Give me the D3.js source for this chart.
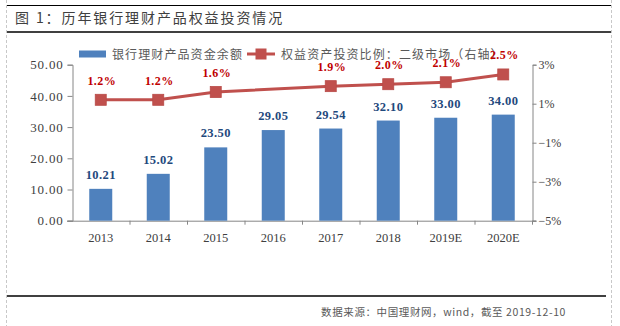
<!DOCTYPE html>
<html>
<head>
<meta charset="utf-8">
<script src="https://cdn.jsdelivr.net/npm/d3@7/dist/d3.min.js"></script>
<style>
  html, body { margin: 0; padding: 0; background: #fff; }
  svg { display: block; }
</style>
</head>
<body>
<svg id="chart" width="620" height="326"></svg>
<script>
// Bank wealth-management funds (trillion yuan) and equity allocation share;
// 2016 has no equity share figure, so the line runs straight from 2015 to 2017
const years = ["2013", "2014", "2015", "2016", "2017", "2018", "2019E", "2020E"];
const fundBalance = [10.21, 15.02, 23.50, 29.05, 29.54, 32.10, 33.00, 34.00];
const equityShare = [1.2, 1.2, 1.6, null, 1.9, 2.0, 2.1, 2.5];
const leftTicks = [0, 10, 20, 30, 40, 50];
const rightTicks = [-5, -3, -1, 1, 3];
const titleText = "图 1：历年银行理财产品权益投资情况";
const barLegend = "银行理财产品资金余额";
const lineLegend = "权益资产投资比例：二级市场（右轴）";
const sourceText = "数据来源：中国理财网，wind，截至 2019-12-10";

const svg = d3.select("#chart");
const serif = "'Liberation Serif', 'DejaVu Serif', serif";
const cjk = "'Noto Sans CJK SC', sans-serif";
const axisColor = "#868686";

// frame: dashed side rules, solid top and bottom rules
svg.append("line").attr("x1", 6.5).attr("x2", 6.5).attr("y1", 0).attr("y2", 326)
  .attr("stroke", "#c8c8c8").attr("stroke-dasharray", "3,2");
svg.append("line").attr("x1", 611.5).attr("x2", 611.5).attr("y1", 0).attr("y2", 326)
  .attr("stroke", "#c8c8c8").attr("stroke-dasharray", "3,2");
svg.append("line").attr("x1", 7).attr("x2", 611).attr("y1", 5.5).attr("y2", 5.5)
  .attr("stroke", "#000").attr("stroke-width", 1);
svg.append("line").attr("x1", 7).attr("x2", 611).attr("y1", 32).attr("y2", 32)
  .attr("stroke", "#000").attr("stroke-width", 1.5);
svg.append("line").attr("x1", 7).attr("x2", 606).attr("y1", 296).attr("y2", 296)
  .attr("stroke", "#000").attr("stroke-width", 1.5);

svg.append("text").attr("x", 15).attr("y", 23)
  .attr("font-family", cjk).attr("font-size", 14).attr("letter-spacing", 1.9)
  .attr("fill", "#404040").text(titleText);

svg.append("text").attr("x", 566).attr("y", 316).attr("text-anchor", "end")
  .attr("font-family", cjk).attr("font-size", 10.5).attr("letter-spacing", 0.6)
  .attr("fill", "#595959").text(sourceText);

// scales
const x = d3.scaleBand().domain(years).range([72, 532]).paddingInner(0.6).paddingOuter(0.3);
const xb = d3.scaleBand().domain(years).range([72, 532]);
const yL = d3.scaleLinear().domain([0, 50]).range([220.7, 64.7]);
const yR = d3.scaleLinear().domain([-5, 3]).range([220.7, 64.7]);

// left axis
const gL = svg.append("g").attr("transform", "translate(72.5,0)")
  .call(d3.axisLeft(yL).tickValues(leftTicks).tickFormat(d3.format(".2f")).tickSize(5).tickPadding(4));
// right axis
const gR = svg.append("g").attr("transform", "translate(532.5,0)")
  .call(d3.axisRight(yR).tickValues(rightTicks).tickFormat(d => (d < 0 ? "−" + Math.abs(d) : d) + "%").tickSize(4).tickPadding(2));
// bottom axis with ticks at category boundaries
const gB = svg.append("g").attr("transform", "translate(0,220.7)")
  .call(d3.axisBottom(xb).tickSize(0).tickPadding(12));
gB.selectAll(".tick").append("line")
  .attr("x1", xb.bandwidth() / 2 + 0.5).attr("x2", xb.bandwidth() / 2 + 0.5)
  .attr("y1", 0).attr("y2", 4).attr("stroke", axisColor);

[gL, gR, gB].forEach(g => {
  g.select(".domain").attr("stroke", axisColor);
  g.selectAll(".tick line").attr("stroke", axisColor);
  g.selectAll(".tick text").attr("font-family", serif).attr("font-size", 13).attr("fill", "#404040");
});
gB.select(".domain").attr("d", "M67,0.5H536");
gL.selectAll(".tick text").attr("letter-spacing", 0.8);
gR.selectAll(".tick text").attr("font-size", 12);
gB.selectAll(".tick text").attr("font-size", 12.5);

// bars
svg.append("g").selectAll("rect").data(years).join("rect")
  .attr("x", d => x(d)).attr("width", x.bandwidth())
  .attr("y", (d, i) => yL(fundBalance[i]))
  .attr("height", (d, i) => yL(0) - yL(fundBalance[i]))
  .attr("fill", "#4F81BD");

svg.append("g").selectAll("text").data(years).join("text")
  .attr("x", d => x(d) + x.bandwidth() / 2)
  .attr("y", (d, i) => yL(fundBalance[i]) - 10)
  .attr("text-anchor", "middle")
  .attr("font-family", serif).attr("font-weight", "bold").attr("font-size", 12.5)
  .attr("letter-spacing", 0.4)
  .attr("fill", "#1F497D")
  .text((d, i) => fundBalance[i].toFixed(2));

// line series on right axis (points with a value only)
const cx = d => x(d) + x.bandwidth() / 2;
const pts = years.map((yr, i) => ({ yr, v: equityShare[i] })).filter(p => p.v != null);
const line = d3.line().x(p => cx(p.yr)).y(p => yR(p.v));
svg.append("path").datum(pts).attr("d", line)
  .attr("fill", "none").attr("stroke", "#C0504D").attr("stroke-width", 3);
svg.append("g").selectAll("rect").data(pts).join("rect")
  .attr("x", p => cx(p.yr) - 5.5).attr("y", p => yR(p.v) - 5.5)
  .attr("width", 11).attr("height", 11)
  .attr("fill", "#C0504D").attr("stroke", "#B84A47").attr("stroke-width", 0.8);

// legend
const lg = svg.append("g");
lg.append("rect").attr("x", 79).attr("y", 50.5).attr("width", 27).attr("height", 7).attr("fill", "#4F81BD");
lg.append("text").attr("x", 112).attr("y", 58.5)
  .attr("font-family", cjk).attr("font-size", 12).attr("letter-spacing", 1.1)
  .attr("fill", "#595959").text(barLegend);
lg.append("line").attr("x1", 247).attr("x2", 275).attr("y1", 54).attr("y2", 54)
  .attr("stroke", "#C0504D").attr("stroke-width", 3);
lg.append("rect").attr("x", 255.5).attr("y", 48.5).attr("width", 11).attr("height", 11).attr("fill", "#C0504D");
lg.append("text").attr("x", 281).attr("y", 58.5)
  .attr("font-family", cjk).attr("font-size", 12).attr("letter-spacing", 1.1)
  .attr("fill", "#595959").text(lineLegend);

// percentage labels drawn last so they sit above the legend
svg.append("g").selectAll("text").data(pts).join("text")
  .attr("x", p => cx(p.yr) + 1)
  .attr("y", p => yR(p.v) - 15)
  .attr("text-anchor", "middle")
  .attr("font-family", serif).attr("font-weight", "bold").attr("font-size", 12)
  .attr("letter-spacing", 0.4)
  .attr("fill", "#C00000")
  .text(p => p.v.toFixed(1) + "%");
</script>
</body>
</html>
